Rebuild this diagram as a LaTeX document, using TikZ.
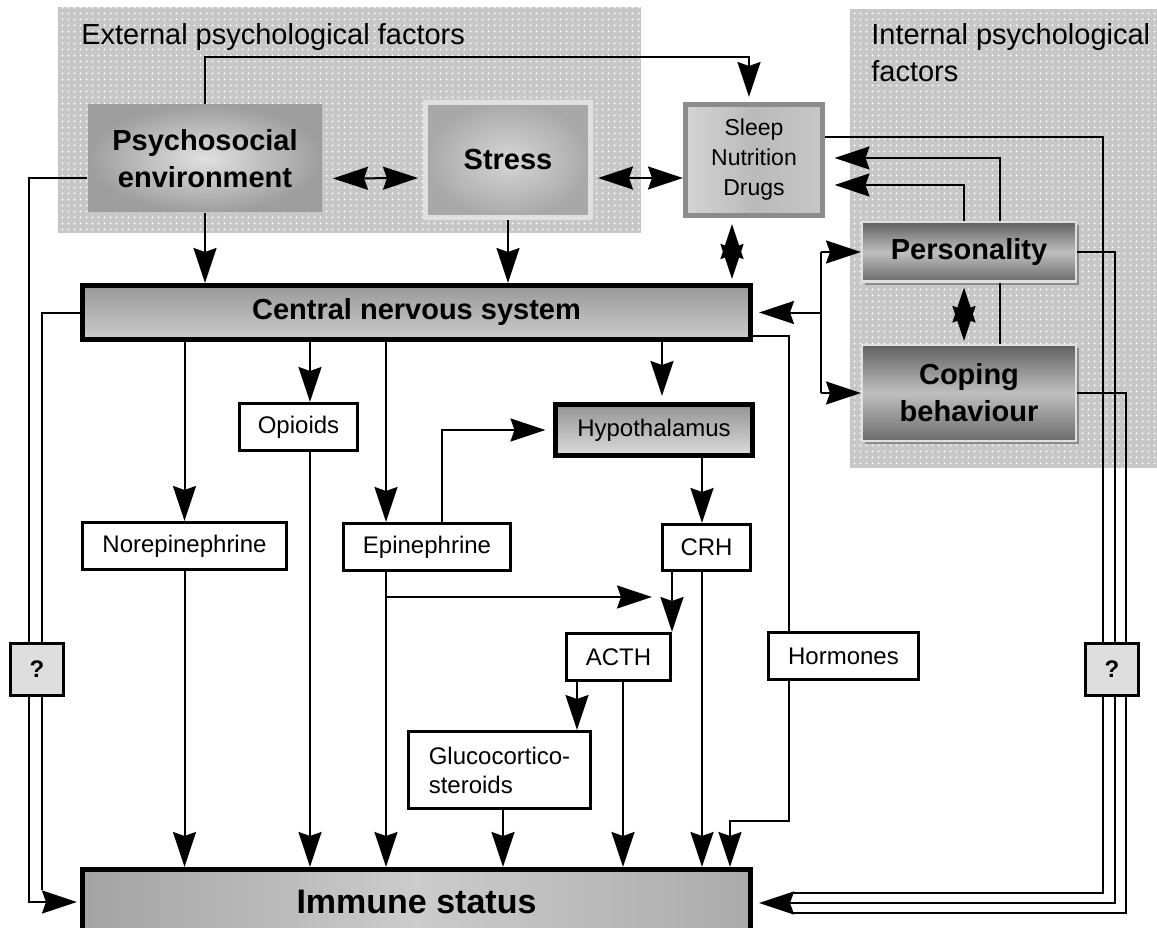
\documentclass[tikz,border=0pt]{standalone}
\usepackage{fontspec}
\setmainfont{Liberation Sans}
\usetikzlibrary{arrows.meta,patterns.meta,shadows}

\tikzdeclarepattern{name=bg_dots, type=uncolored,
  bounding box={(0pt,0pt) and (6pt,6pt)}, tile size={(6pt,6pt)},
  code={\fill (3pt,3pt) circle (1.2pt);}}

\begin{document}
\begin{tikzpicture}[x=1pt, y=-1pt, line width=2pt,
    arr/.style={-{Stealth[length=35pt,width=23pt,inset=4pt]}},
    dbl_arr/.style={{Stealth[length=35pt,width=23pt,inset=4pt]}-{Stealth[length=35pt,width=23pt,inset=4pt]}},
    factor_bg/.style={fill=black!22, postaction={pattern=bg_dots, pattern color=white}},
    plain_node/.style={rectangle, draw, line width=3pt, fill=white, inner sep=0pt, align=center, font=\fontsize{24}{29}\selectfont},
    bold_node/.style={rectangle, inner sep=0pt, align=center, font=\bfseries\fontsize{29}{37}\selectfont},
    trait_node/.style={bold_node, draw=black!12, line width=2pt, top color=black!62, bottom color=black!58, middle color=black!25,
      drop shadow={shadow xshift=3pt, shadow yshift=-3pt, fill=black!45, opacity=1}},
    q_node/.style={rectangle, draw, line width=3pt, fill=black!13, inner sep=0pt, minimum width=53, minimum height=52, font=\bfseries\fontsize{24}{29}\selectfont}]

    \clip (0,0) rectangle (1157,928);

    % psychological factors
    \path[factor_bg] (58,7) rectangle (641,233);
    \path[factor_bg] (850,9) rectangle (1160,468);
    \node[anchor=base west, font=\fontsize{29}{37}\selectfont] (ext_label) at (77,45) {External psychological factors};
    \node[anchor=base west, align=left, font=\fontsize{29}{37}\selectfont] (int_label) at (867,82) {Internal psychological\\factors};

    \node[bold_node, minimum width=234, minimum height=107, inner color=black!12, outer color=black!38] (psycho) at (205,158.5) {Psychosocial\\environment};
    \node[bold_node, draw=black!12, line width=5pt, minimum width=165, minimum height=115, inner color=black!16, outer color=black!34] (stress) at (508,160) {Stress};
    \node[rectangle, draw=black!45, line width=5pt, inner sep=0pt, align=center, minimum width=137, minimum height=111,
      font=\fontsize{23}{30}\selectfont, left color=black!17, right color=black!22, middle color=black!27] (sleep) at (754,160) {Sleep\\Nutrition\\Drugs};
    \node[trait_node, minimum width=214, minimum height=59] (pers) at (969,252) {Personality};
    \node[trait_node, minimum width=214, minimum height=96] (cope) at (969,393) {Coping\\behaviour};

    % nervous system and messengers
    \node[bold_node, draw, line width=5pt, minimum width=668, minimum height=54, top color=black!40, bottom color=black!20] (cns) at (416.5,312.5) {Central nervous system};
    \node[plain_node, line width=5pt, minimum width=197, minimum height=51, top color=black!42, bottom color=black!14] (hypo) at (654,430) {Hypothalamus};
    \node[plain_node, minimum width=118, minimum height=47] (opi) at (298.5,427) {Opioids};
    \node[plain_node, minimum width=204, minimum height=47] (nor) at (184.5,546) {Norepinephrine};
    \node[plain_node, minimum width=167, minimum height=47] (epi) at (427,547) {Epinephrine};
    \node[plain_node, minimum width=88, minimum height=46] (crh) at (706.5,547.5) {CRH};
    \node[plain_node, minimum width=104, minimum height=47] (acth) at (618.5,657) {ACTH};
    \node[plain_node, minimum width=150, minimum height=47] (horm) at (843.5,656) {Hormones};
    \node[plain_node, align=left, minimum width=182, minimum height=77] (gluco) at (499.5,770) {Glucocortico-\\steroids};
    \node[bold_node, draw, line width=5pt, minimum width=668, minimum height=65, font=\bfseries\fontsize{34}{40}\selectfont,
      left color=black!36, right color=black!33, middle color=black!20] (imm) at (416.5,902) {Immune status};

    % external factors
    \draw[arr, shorten >=5pt] (psycho.north) -- ++(0,-47) -| ([xshift=-5pt]sleep.north);
    \draw[dbl_arr] ([shift={(10,20)}]psycho.east) -- ([shift={(-5,18)}]stress.west);
    \draw[dbl_arr] ([shift={(5,18)}]stress.east) -- ([shift={(0,18)}]sleep.west);
    \draw[arr] (psycho.south) -- (psycho.south |- cns.north);
    \draw[arr] (stress.south) -- (stress.south |- cns.north);
    \draw[dbl_arr, shorten <=6pt, shorten >=4pt] ([xshift=-22pt]sleep.south) -- ([xshift=-22pt]sleep.south |- cns.north);

    % internal factors
    \draw[arr] ([xshift=-5pt]pers.north) |- ([shift={(9.5,25)}]sleep.east);
    \draw ([xshift=31pt]cope.north) -- ([xshift=31pt]pers.south);
    \draw[arr] ([xshift=31pt]pers.north) |- ([shift={(9.5,-2)}]sleep.east);
    \draw[dbl_arr, shorten <=5pt, shorten >=3pt] ([xshift=-5pt]pers.south) -- ([xshift=-5pt]cope.north);
    \draw ([xshift=-40pt]pers.west) -- ([xshift=-40pt]cope.west);
    \draw[arr] ([xshift=-40pt]pers.west) -- (pers.west);
    \draw[arr] ([xshift=-40pt]cope.west) -- (cope.west);
    \draw[arr] ([xshift=-40pt]pers.west |- cns.east) -- ([xshift=6pt]cns.east);

    % right rails to immune status
    \draw ([yshift=23pt]sleep.east) -| ([shift={(350,-9)}]imm.east) -- ([shift={(40,-9)}]imm.east);
    \draw[arr] (pers.east) -| ([shift={(362,1)}]imm.east) -- ([shift={(6,1)}]imm.east);
    \draw (cope.east) -| ([shift={(373,11)}]imm.east) -- ([shift={(40,11)}]imm.east);
    \node[q_node] (q_right) at (1112,669.5) {?};

    % left rails to immune status
    \draw[arr] ([yshift=-20pt]psycho.west) -- ++(-58,0) |- ([xshift=-3pt]imm.west);
    \draw (cns.west) -| ([shift={(-38.5,-12)}]imm.west);
    \node[q_node] (q_left) at (37,669.5) {?};

    % central nervous system outputs
    \draw[arr] (nor.north |- cns.south) -- (nor.north);
    \draw[arr] ([xshift=11.5pt]opi.north |- cns.south) -- ([xshift=11.5pt]opi.north);
    \draw[arr] ([xshift=-41pt]epi.north |- cns.south) -- ([xshift=-41pt]epi.north);
    \draw[arr, shorten >=6pt] ([xshift=8pt]hypo.north |- cns.south) -- ([xshift=8pt]hypo.north);
    \draw ([yshift=-23.5pt]cns.east) -| ([xshift=-54.5pt]horm.north);

    % hypothalamus axis
    \draw[arr] ([xshift=15pt]epi.north) |- ([xshift=-7.5pt]hypo.west);
    \draw[arr] ([xshift=48pt]hypo.south) -- ([xshift=48pt]hypo.south |- crh.north);
    \draw[arr] ([xshift=-34.5pt]crh.south) -- ([xshift=-34.5pt]crh.south |- acth.north);
    \draw[arr] ([shift={(-41,25)}]epi.south) -- ++(266,0);
    \draw[arr] ([xshift=-41.5pt]acth.south) -- ([xshift=-41.5pt]acth.south |- gluco.north);

    % into immune status
    \draw[arr] (nor.south) -- (nor.south |- imm.north);
    \draw[arr] ([xshift=11.5pt]opi.south) -- ([xshift=11.5pt]opi.south |- imm.north);
    \draw[arr] ([xshift=-41pt]epi.south) -- ([xshift=-41pt]epi.south |- imm.north);
    \draw[arr] ([xshift=3.5pt]gluco.south) -- ([xshift=3.5pt]gluco.south |- imm.north);
    \draw[arr] ([xshift=4.5pt]acth.south) -- ([xshift=4.5pt]acth.south |- imm.north);
    \draw[arr] ([xshift=-4.5pt]crh.south) -- ([xshift=-4.5pt]crh.south |- imm.north);
    \draw[arr] ([xshift=-54.5pt]horm.south) -- ++(0,139.5) -| ([xshift=313.5pt]imm.north);
\end{tikzpicture}
\end{document}
